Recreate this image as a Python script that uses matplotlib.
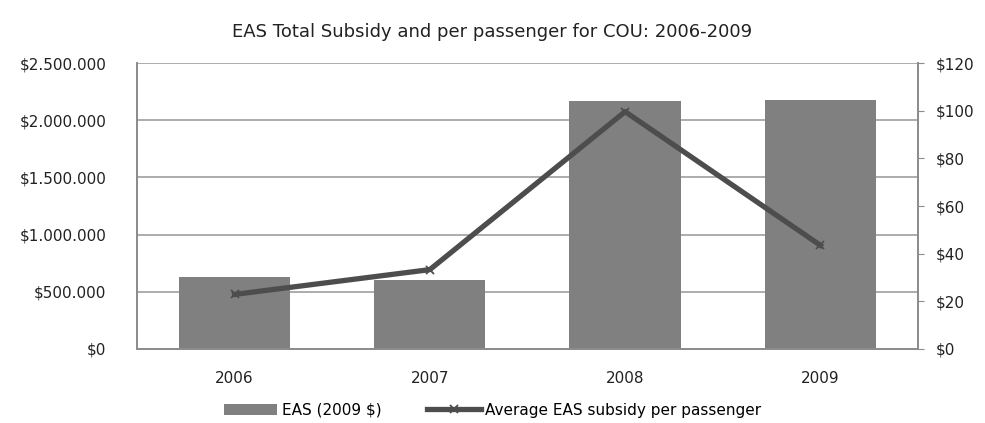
import matplotlib.pyplot as plt
import numpy as np
from matplotlib.ticker import FuncFormatter

# data
years = ["2006", "2007", "2008", "2009"]
eas_total = [627000, 607000, 2165000, 2175000]
subsidy_per_pax = [22.9, 33.3, 99.6, 43.5]

plt.rcParams['font.family'] = ['DejaVu Sans']

fig = plt.figure(figsize=(9.85, 4.23), dpi=100)
ax = fig.add_axes([0.139, 0.175, 0.793, 0.676])
ax2 = ax.twinx()

x = np.arange(len(years))
bars = ax.bar(x, eas_total, width=0.57, color='#808080', zorder=2, label='EAS (2009 $)')
ax.set_ylim(0, 2500000)
ax.set_xlim(-0.5, 3.5)
ax.set_yticks(np.arange(0, 2500001, 500000))
ax.yaxis.set_major_formatter(FuncFormatter(lambda v, p: '$0' if v == 0 else '${:,.0f}'.format(v).replace(',', '.')))
ax.grid(axis='y', color='#a6a6a6', linewidth=1.3, zorder=0)
ax.set_axisbelow(True)
ax.set_xticks(x)
ax.set_xticklabels(years)

line, = ax2.plot(x, subsidy_per_pax, color='#4d4d4d', linewidth=3.8, marker='x',
                 markersize=6, markeredgewidth=1.3, label='Average EAS subsidy per passenger')
ax2.set_ylim(0, 120)
ax2.set_yticks(np.arange(0, 121, 20))
ax2.yaxis.set_major_formatter(FuncFormatter(lambda v, p: '${:.0f}'.format(v)))

for a in (ax, ax2):
    a.spines['top'].set_visible(False)
    for s in ('left', 'right', 'bottom'):
        a.spines[s].set_color('#8c8c8c')
        a.spines[s].set_linewidth(1.3)
    a.tick_params(labelsize=11, colors='#222222', length=0, pad=8)
ax.tick_params(axis='y', pad=22)
ax2.tick_params(axis='y', length=4, color='#8c8c8c', pad=9)
ax.tick_params(axis='x', pad=16)

fig.suptitle('EAS Total Subsidy and per passenger for COU: 2006-2009', fontsize=13,
             y=0.945, x=0.5, color='#222222')

fig.legend(handles=[bars, line], loc='lower center', bbox_to_anchor=(0.5, -0.02),
           ncol=2, frameon=False, fontsize=11, handlelength=3.5, columnspacing=3,
           handletextpad=0.3)

fig.savefig('out.png', dpi=100)
